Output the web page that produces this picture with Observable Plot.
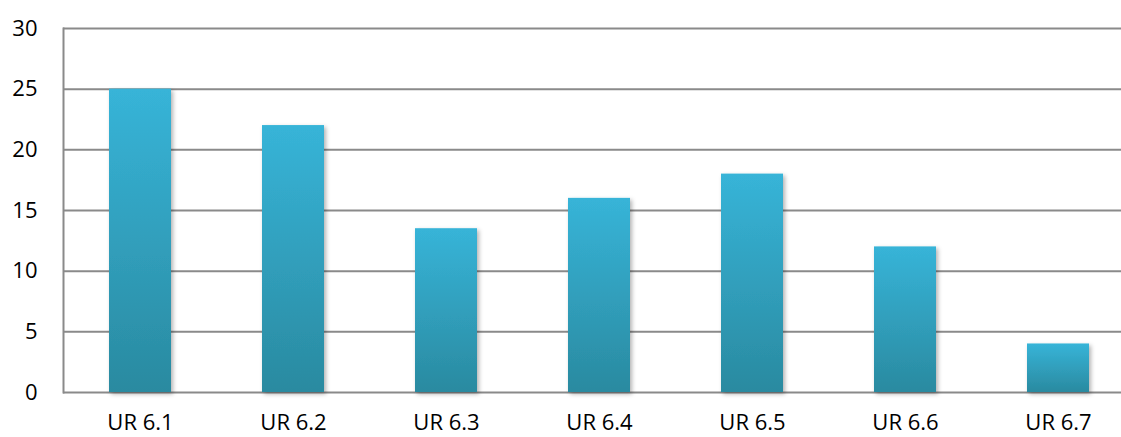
<!DOCTYPE html>
<html>
<head>
<meta charset="utf-8">
<script src="https://cdn.jsdelivr.net/npm/d3@7"></script>
<script src="https://cdn.jsdelivr.net/npm/@observablehq/plot@0.6"></script>
<style>
  html, body { margin: 0; padding: 0; background: #fff; }
  svg { display: block; }
</style>
</head>
<body>
<div id="chart"></div>
<script>
const categories = ["UR 6.1", "UR 6.2", "UR 6.3", "UR 6.4", "UR 6.5", "UR 6.6", "UR 6.7"];
const values = [25, 22, 13.5, 16, 18, 12, 4];
const yTicks = [0, 5, 10, 15, 20, 25, 30];

const data = categories.map((c, i) => ({category: c, value: values[i]}));

const NS = "http://www.w3.org/2000/svg";
function defsMark() {
  const g = document.createElementNS(NS, "g");
  const defs = document.createElementNS(NS, "defs");
  const grad = document.createElementNS(NS, "linearGradient");
  grad.setAttribute("id", "barGrad");
  grad.setAttribute("x1", "0"); grad.setAttribute("y1", "0");
  grad.setAttribute("x2", "0"); grad.setAttribute("y2", "1");
  [["0%", "#37b4d8"], ["100%", "#2a8aa0"]].forEach(([o, c]) => {
    const s = document.createElementNS(NS, "stop");
    s.setAttribute("offset", o); s.setAttribute("stop-color", c);
    grad.appendChild(s);
  });
  defs.appendChild(grad);
  const filt = document.createElementNS(NS, "filter");
  filt.setAttribute("id", "barShadow");
  filt.setAttribute("x", "-20%"); filt.setAttribute("y", "-10%");
  filt.setAttribute("width", "150%"); filt.setAttribute("height", "130%");
  const ds = document.createElementNS(NS, "feDropShadow");
  ds.setAttribute("dx", "2"); ds.setAttribute("dy", "2");
  ds.setAttribute("stdDeviation", "2");
  ds.setAttribute("flood-color", "#000"); ds.setAttribute("flood-opacity", "0.3");
  filt.appendChild(ds);
  defs.appendChild(filt);
  g.appendChild(defs);
  return g;
}

const chart = Plot.plot({
  width: 1121,
  height: 437,
  marginLeft: 63,
  marginRight: 0,
  marginTop: 28,
  marginBottom: 45,
  style: {fontFamily: "'Open Sans', sans-serif", fontSize: "22px", color: "#000", background: "#fff"},
  x: {domain: categories, range: [63, 1134], paddingInner: 0.595, paddingOuter: 0.2975, label: null},
  y: {domain: [0, 30], label: null},
  marks: [
    defsMark,
    Plot.ruleY(yTicks, {stroke: "#8a8a8a", strokeWidth: 2}),
    Plot.frame({anchor: "left", stroke: "#8a8a8a", strokeWidth: 2}),
    Plot.barY(data, {x: "category", y: "value", fill: "url(#barGrad)"}),
    Plot.axisY({ticks: yTicks, tickSize: 0, tickPadding: 26, label: null, fontSize: 22}),
    Plot.axisX({tickSize: 0, tickPadding: 22, label: null, fontSize: 22})
  ]
});
chart.querySelectorAll("g[aria-label='bar'] rect").forEach(r => r.setAttribute("filter", "url(#barShadow)"));
document.getElementById("chart").appendChild(chart);
</script>
</body>
</html>
